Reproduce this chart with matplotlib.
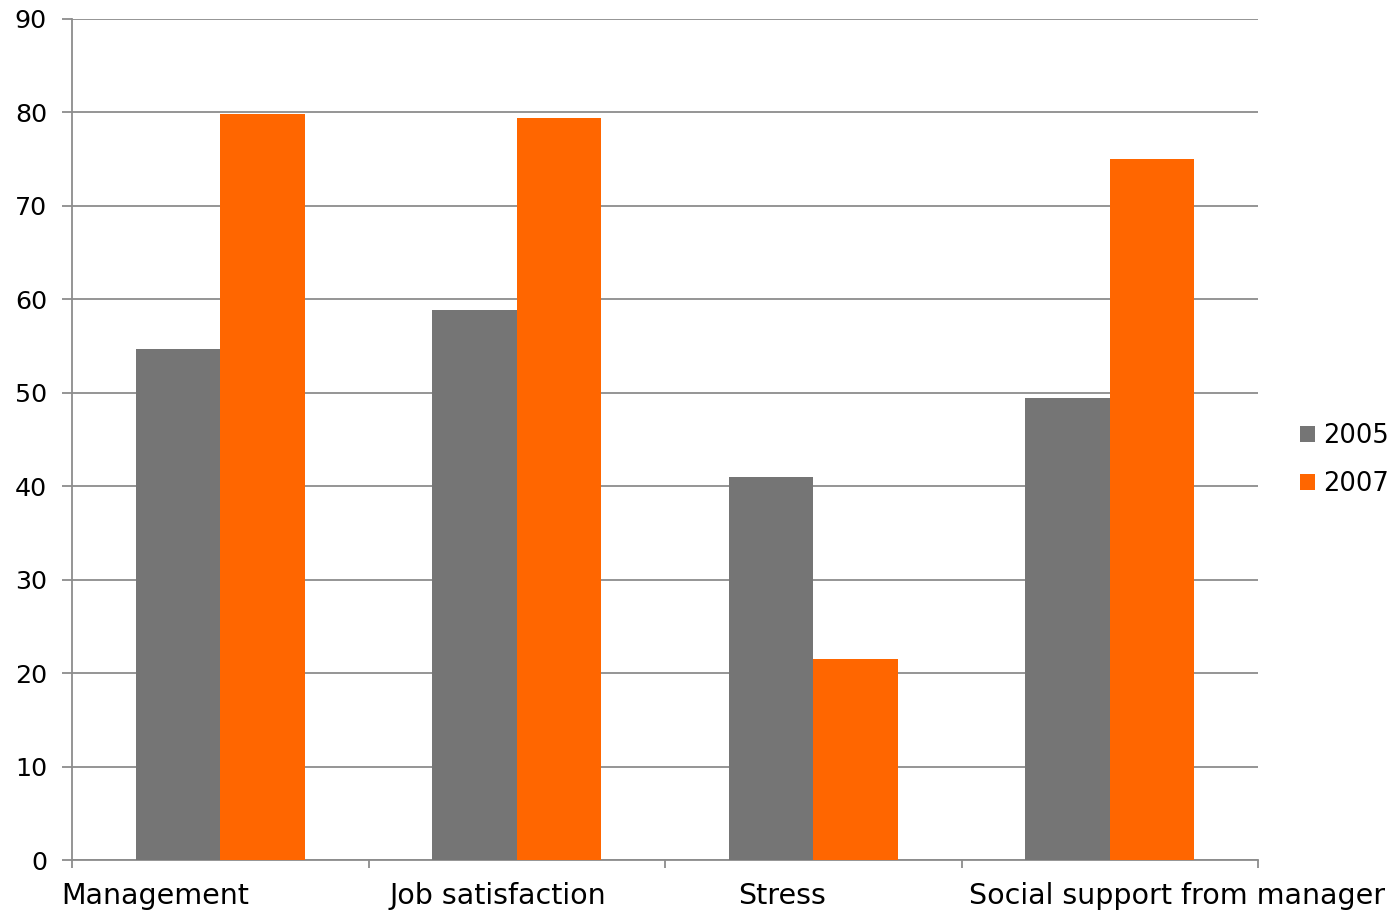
import matplotlib
matplotlib.use("Agg")
import matplotlib.pyplot as plt
import numpy as np

categories = ["Management", "Job satisfaction", "Stress", "Social support from manager"]
years = ["2005", "2007"]
values_2005 = [54.7, 58.9, 41.0, 49.4]
values_2007 = [79.8, 79.4, 21.5, 75.0]

# label nudges (in category units) so the long names stay readable
label_shift = [-0.22, -0.063, -0.104, 0.228]

grey = "#757575"
orange = "#ff6600"
line_col = "#8c8c8c"

plt.rcParams['font.family'] = ['DejaVu Sans']

fig = plt.figure(figsize=(13.99, 9.14), dpi=100)
ax = fig.add_axes([72 / 1399, 54 / 914, (1258 - 72) / 1399, (860 - 19) / 914])

x = np.arange(len(categories))
w = 0.285
ax.bar(x - w / 2, values_2005, w, color=grey, label=years[0], zorder=3)
ax.bar(x + w / 2, values_2007, w, color=orange, label=years[1], zorder=3)

ax.set_xlim(-0.5, len(categories) - 0.5)
ax.set_ylim(0, 90)
ax.set_yticks(np.arange(0, 91, 10))
ax.yaxis.grid(True, color=line_col, linewidth=1.3, zorder=0)
ax.set_axisbelow(True)

ax.set_xticks(np.arange(-0.5, len(categories), 1.0))
ax.set_xticklabels([])
for i, name in enumerate(categories):
    ax.text(i + label_shift[i], -3.85, name, ha="center", va="center",
            fontsize=20.5, color="black")

for s in ["top", "right"]:
    ax.spines[s].set_visible(False)
for s in ["left", "bottom"]:
    ax.spines[s].set_color(line_col)
    ax.spines[s].set_linewidth(1.3)

ax.tick_params(axis="both", colors=line_col, width=1.3)
ax.tick_params(axis="x", length=5.5)
ax.tick_params(axis="y", length=7, labelcolor="black", labelsize=18.3, pad=11)

ax.legend(loc="center left", bbox_to_anchor=(1.025, 0.476), frameon=False,
          fontsize=18.5, handlelength=0.58, handleheight=0.58,
          handletextpad=0.3, labelspacing=0.85, borderpad=0)

fig.savefig("out.png", dpi=100)
